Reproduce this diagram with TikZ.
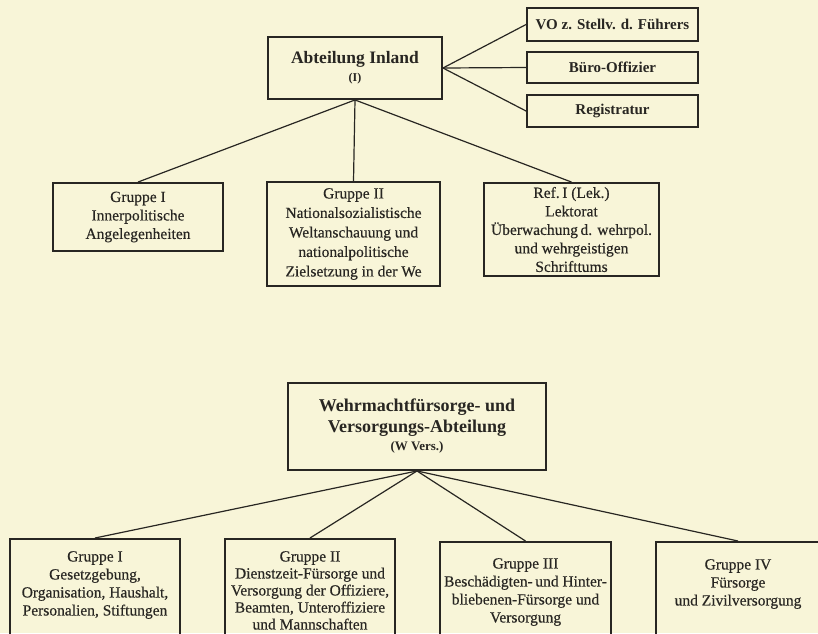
\documentclass[tikz,border=0pt]{standalone}
\usepackage{fontspec}
\setmainfont{Liberation Serif}
\newfontfamily\medfont{Liberation Serif}[FakeBold=0.35]
\definecolor{bg}{RGB}{248,245,216}
\definecolor{ink}{RGB}{40,38,34}
\begin{document}
\begin{tikzpicture}[x=1pt,y=-1pt,
  box/.style={draw=ink,line width=1.9pt,inner sep=0pt,align=center,text=ink},
  conn/.style={draw=ink,line width=1.2pt},
  grp/.style={font=\medfont\fontsize{15.5}{18.5}\selectfont},
  head/.style={font=\fontsize{17.5}{21}\selectfont\bfseries},
  small/.style={font=\fontsize{15}{16}\selectfont\bfseries},
  lbl/.style={text=ink,align=center,inner sep=0pt,font=\medfont\fontsize{15.5}{18}\selectfont}]
\useasboundingbox (0,0) rectangle (818,633);
\fill[bg] (0,0) rectangle (818,633);
\clip (0,0) rectangle (818,633);

% upper part
\node[box,head,minimum width=174,minimum height=62] (inl) at (355,68)
  {Abteilung Inland\\[-3pt]{\fontsize{12}{13}\selectfont (I)}};
\node[box,small,minimum width=171,minimum height=33] (vo) at (612.5,24.5) {VO z. Stellv. d. Führers};
\node[box,small,minimum width=171,minimum height=31] (buro) at (612.5,67.5) {Büro-Offizier};
\node[box,small,minimum width=171,minimum height=32] (reg) at (612.5,111) {Registratur};

\node[box,grp,minimum width=170,minimum height=68] (g1) at (138,217)
  {Gruppe I\\Innerpolitische\\Angelegenheiten};
\node[box,font=\medfont\fontsize{15.5}{19.5}\selectfont,minimum width=173,minimum height=104] (g2) at (353.5,234)
  {Gruppe II\\Nationalsozialistische\\Weltanschauung und\\nationalpolitische\\Zielsetzung in der We};
\node[box,grp,minimum width=175,minimum height=93] (ref) at (571.5,229.5)
  {Ref.\,I (Lek.)\\Lektorat\\Überwachung\,d. wehrpol.\\und wehrgeistigen\\Schrifttums};

\draw[conn] (inl.east) -- (vo.west);
\draw[conn] (inl.east) -- (buro.west);
\draw[conn] (inl.east) -- (reg.west);
\draw[conn] (inl.south) -- (g1.north);
\draw[conn] (inl.south) -- (g2.north);
\draw[conn] (inl.south) -- (ref.north);

% lower part
\node[box,font=\fontsize{18}{20.5}\selectfont\bfseries,minimum width=258,minimum height=87] (wv) at (417,426.5)
  {Wehrmachtfürsorge- und\\Versorgungs-Abteilung\\[-2pt]{\fontsize{13}{14}\selectfont (W Vers.)}};

\node[box,minimum width=170,minimum height=140,anchor=north] (b1) at (95,538) {};
\node[box,minimum width=170,minimum height=140,anchor=north] (b2) at (310,538) {};
\node[box,minimum width=171,minimum height=140,anchor=north] (b3) at (525.5,541) {};
\node[box,minimum width=164,minimum height=140,anchor=north] (b4) at (738,541) {};

\node[lbl,anchor=north] (b1t) at (95,551)
  {Gruppe I\\Gesetzgebung,\\Organisation, Haushalt,\\Personalien, Stiftungen};
\node[lbl,font=\medfont\fontsize{15.5}{17}\selectfont,anchor=north] (b2t) at (310,551)
  {Gruppe II\\Dienstzeit-Fürsorge und\\Versorgung der Offiziere,\\Beamten, Unteroffiziere\\und Mannschaften};
\node[lbl,anchor=north] (b3t) at (525.5,558)
  {Gruppe III\\Beschädigten-\,und Hinter-\\bliebenen-Fürsorge und\\Versorgung};
\node[lbl,anchor=north] (b4t) at (738,559)
  {Gruppe IV\\Fürsorge\\und Zivilversorgung};

\draw[conn] (wv.south) -- (b1.north);
\draw[conn] (wv.south) -- (b2.north);
\draw[conn] (wv.south) -- (b3.north);
\draw[conn] (wv.south) -- (b4.north);
\end{tikzpicture}
\end{document}
